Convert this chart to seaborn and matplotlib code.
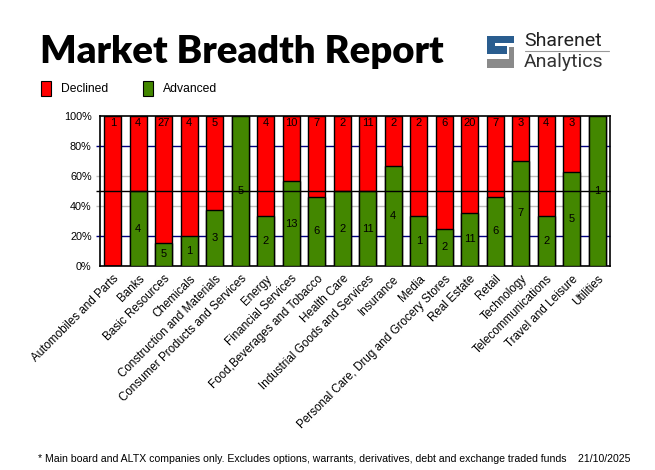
import numpy as np
import pandas as pd
import seaborn as sns
import matplotlib.pyplot as plt
from matplotlib.patches import Rectangle, Polygon

sectors = ['Automobiles and Parts', 'Banks', 'Basic Resources', 'Chemicals',
           'Construction and Materials', 'Consumer Products and Services', 'Energy',
           'Financial Services', 'Food,Beverages and Tobacco', 'Health Care',
           'Industrial Goods and Services', 'Insurance', 'Media',
           'Personal Care, Drug and Grocery Stores', 'Real Estate', 'Retail',
           'Technology', 'Telecommunications', 'Travel and Leisure', 'Utilities']
declined = [1, 4, 27, 4, 5, 0, 4, 10, 7, 2, 11, 2, 2, 6, 20, 7, 3, 4, 3, 0]
advanced = [0, 4, 5, 1, 3, 5, 2, 13, 6, 2, 11, 4, 1, 2, 11, 6, 7, 2, 5, 1]

RED = '#ff0000'
GREEN = '#438700'

df = pd.DataFrame({'sector': sectors, 'declined': declined, 'advanced': advanced})
df['total'] = 100.0
df['adv_pct'] = 100.0 * df['advanced'] / (df['advanced'] + df['declined'])

sns.set_style('white')
plt.rcParams['font.family'] = ['Liberation Sans', 'DejaVu Sans']
plt.rcParams['text.color'] = 'black'
plt.rcParams['xtick.color'] = 'black'
plt.rcParams['ytick.color'] = 'black'

fig = plt.figure(figsize=(6.55, 4.70), dpi=100)
ax = fig.add_axes([100/655, 1-266/470, 510/655, 150/470])

# grid lines behind the bars (they poke out a little left of the axis)
ytr = ax.get_yaxis_transform()
for y, c in [(20, '#000080'), (80, '#000080'), (40, '#bdbdbd'), (60, '#bdbdbd')]:
    ax.hlines(y, -0.007, 1, colors=c, lw=1, zorder=0, transform=ytr, clip_on=False)

sns.barplot(data=df, x='sector', y='total', color=RED, width=0.65,
            edgecolor='black', linewidth=1, saturation=1, ax=ax, zorder=2)
sns.barplot(data=df, x='sector', y='adv_pct', color=GREEN, width=0.65,
            edgecolor='black', linewidth=1, saturation=1, ax=ax, zorder=3)

ax.hlines(50, -0.007, 1, colors='black', lw=1, zorder=4, transform=ytr, clip_on=False)

for i, row in df.iterrows():
    if row['declined'] > 0:
        ax.text(i, 98.5, str(row['declined']), ha='center', va='top', fontsize=8, zorder=5)
    if row['advanced'] > 0:
        ax.text(i, row['adv_pct'] / 2, str(row['advanced']), ha='center', va='center',
                fontsize=8, zorder=5)

ax.set_xlim(-0.5, len(sectors) - 0.5)
ax.set_ylim(0, 100)
ax.set_yticks([0, 20, 40, 60, 80, 100])
ax.set_yticklabels([f'{v}%' for v in range(0, 101, 20)], fontsize=7.8)
ax.set_xticks(range(len(sectors)))
ax.set_xticklabels(sectors, rotation=45, ha='right', rotation_mode='anchor', fontsize=8.4)
ax.tick_params(axis='y', length=0, pad=6)
ax.tick_params(axis='x', length=0, pad=5)
ax.set_xlabel('')
ax.set_ylabel('')
for s in ax.spines.values():
    s.set_visible(True)
    s.set_color('black')
    s.set_linewidth(1.2)

# title and legend
fig.text(40/655, 1-63/470, 'Market Breadth Report', fontsize=27.5, fontweight='heavy',
         family='Lato', va='baseline', ha='left')
fig.patches.append(Rectangle((41/655, 1-96/470), 10/655, 15/470, transform=fig.transFigure,
                             facecolor=RED, edgecolor='black', lw=0.8))
fig.text(61/655, 1-88.5/470, 'Declined', fontsize=8.7, va='center')
fig.patches.append(Rectangle((143/655, 1-96/470), 10/655, 15/470, transform=fig.transFigure,
                             facecolor=GREEN, edgecolor='black', lw=0.8))
fig.text(163/655, 1-88.5/470, 'Advanced', fontsize=8.7, va='center')

# logo
def px(x, y):
    return (x / 655, 1 - y / 470)

blue = '#2a5d8f'
grey = '#8a8a8a'
blue_shape = [px(487, 36), px(514, 36), px(514, 43), px(495, 43), px(495, 46),
              px(507, 46), px(507, 54), px(487, 54)]
grey_shape = [px(509, 47), px(514, 47), px(514, 68), px(487, 68), px(487, 59),
              px(509, 59)]
fig.patches.append(Polygon(blue_shape, closed=True, transform=fig.transFigure,
                           facecolor=blue, edgecolor='none'))
fig.patches.append(Polygon(grey_shape, closed=True, transform=fig.transFigure,
                           facecolor=grey, edgecolor='none'))
fig.text(524/655, 1-46/470, 'Sharenet', fontsize=14, va='baseline', ha='left',
         family='Roboto', color='#222222')
fig.lines.append(plt.Line2D([525/655, 609/655], [1-50.5/470, 1-50.5/470],
                            transform=fig.transFigure, color='#999999', lw=0.8))
fig.text(524/655, 1-67/470, 'Analytics', fontsize=14, va='baseline', ha='left',
         family='Roboto', color='#333333')

fig.text(38/655, 1-462/470,
         '* Main board and ALTX companies only. Excludes options, warrants, derivatives, '
         'debt and exchange traded funds    21/10/2025', fontsize=7.6, va='baseline', ha='left')

fig.savefig('out.png', dpi=100)
